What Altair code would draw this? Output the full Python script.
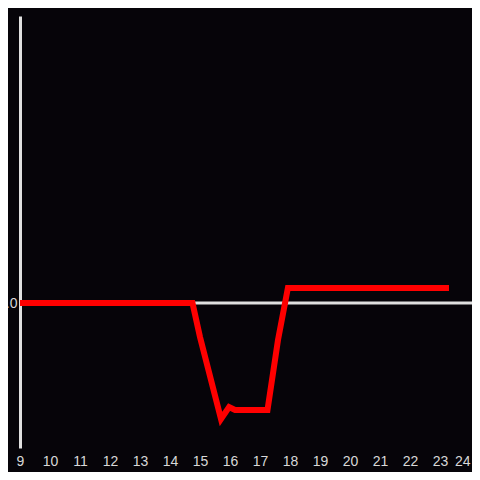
import altair as alt
import pandas as pd

hours = [9, 14.75, 15.0, 15.7, 15.97, 16.17, 17.25, 17.6, 17.93, 23.3]
values = [0, 0, -0.34, -1.16, -1.04, -1.07, -1.07, -0.37, 0.15, 0.15]
x_ticks = list(range(9, 25))

df = pd.DataFrame({"hour": hours, "value": values})

xs = alt.Scale(domain=[9, 24.067], nice=False, zero=False)
ys = alt.Scale(domain=[-1.45, 2.87], nice=False, zero=False)

zero = alt.Chart(pd.DataFrame({"v": [0]})).mark_rule(color="#e0e0e0", strokeWidth=3).encode(
    y=alt.Y("v:Q", scale=ys)
)

line = alt.Chart(df).mark_line(color="#ff0000", strokeWidth=6, strokeJoin="miter", clip=True).encode(
    x=alt.X("hour:Q", scale=xs, title=None,
            axis=alt.Axis(values=x_ticks, ticks=False, tickSize=0, domain=False, grid=False,
                          labelColor="#d8d8d8", labelFontSize=14, labelPadding=6,
                          labelFont="Liberation Sans", labelFlush=False,
                          labelAlign=alt.expr("datum.value == 24 ? 'right' : 'center'"))),
    y=alt.Y("value:Q", scale=ys, title=None,
            axis=alt.Axis(values=[0], ticks=False, tickSize=0, grid=False, domain=True,
                          domainColor="#e0e0e0", domainWidth=3,
                          labelColor="#d8d8d8", labelFontSize=14, labelPadding=3,
                          labelAlign="right", labelFont="Liberation Sans")),
)

chart = alt.layer(zero, line).properties(
    width=452, height=432,
    autosize=alt.AutoSizeParams(type="none"),
    padding={"left": 12, "top": 8, "right": 0, "bottom": 24},
    background="#060409",
).configure_view(stroke=None)

chart.save("out.html", embed_options={"renderer": "svg", "actions": False})
